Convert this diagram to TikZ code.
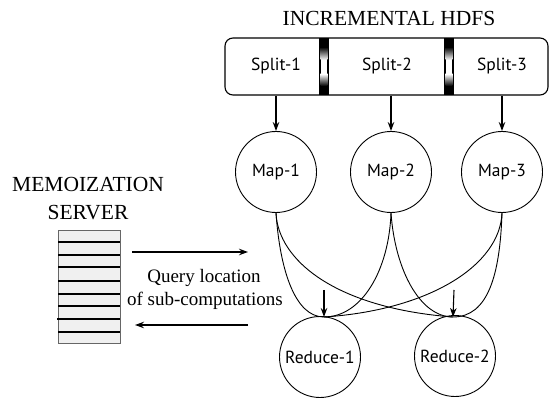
\documentclass[tikz,border=0pt]{standalone}
\usepackage{fontspec}
\setmainfont{Liberation Serif}
\newfontfamily\labelsans{PT Sans}
\usetikzlibrary{arrows.meta}
\begin{document}
\begin{tikzpicture}[x=1pt,y=-1pt,
  arr/.style={line width=1.1pt,-{Stealth[length=9pt,width=6.5pt]}},
  conn/.style={line width=0.9pt},
  task/.style={circle,draw,line width=0.9pt,minimum size=81pt,inner sep=0pt,font=\labelsans\fontsize{17.5}{20}\selectfont},
  splitlbl/.style={font=\labelsans\fontsize{17.5}{20}\selectfont},
  title/.style={font=\fontsize{21.5}{28}\selectfont,align=center},
  qtext/.style={font=\fontsize{19}{23}\selectfont},
  memoline/.style={line width=1.8pt}]
\useasboundingbox (0,0) rectangle (550,401);

% titles
\node[title] (hdfs) at (389,18) {INCREMENTAL HDFS};
\node[title] (memot) at (88,199) {MEMOIZATION\\SERVER};

% split bar
\node[draw,line width=1.1pt,rounded corners=8pt,minimum width=323pt,minimum height=57pt,inner sep=0pt] (bar) at (386.5,66.5) {};
\foreach \sx in {324,449}{
  \fill[black] (\sx-5,38) rectangle (\sx+5,95);
  \shade[top color=black,bottom color=white] (\sx-3.3,47) rectangle (\sx+3.3,60);
  \fill[white] (\sx-3.3,60) rectangle (\sx+3.3,74);
  \shade[top color=white,bottom color=black] (\sx-3.3,74) rectangle (\sx+3.3,86);
}
\node[splitlbl] (s1) at (276,66) {Split-1};
\node[splitlbl] (s2) at (387,66) {Split-2};
\node[splitlbl] (s3) at (502,66) {Split-3};

% map tasks
\node[task] (m1) at (276,172) {Map-1};
\node[task] (m2) at (391,172) {Map-2};
\node[task] (m3) at (502,172) {Map-3};

% reduce tasks
\node[task] (r1) at (320,357) {Reduce-1};
\node[task] (r2) at (455,356) {Reduce-2};

% split -> map arrows
\draw[arr] (bar.south -| m1) -- (m1.north);
\draw[arr] (bar.south -| m2) -- (m2.north);
\draw[arr] (bar.south -| m3) -- (m3.north);

% reduce inputs
\coordinate (r1t) at (324,317);
\coordinate (r2t) at (453,317);
\coordinate (r1a) at (324,290);
\coordinate (r2a) at (454,290);
\draw[arr] (r1a) -- (r1t);
\draw[arr] (r2a) -- (r2t);

% shuffle curves
\draw[conn] (m1.south) .. controls (280,270) and (295,317) .. (r1t);
\draw[conn] (m2.south) .. controls (389,270) and (362,317) .. (r1t);
\draw[conn] (m3.south) .. controls (500,265) and (430,310) .. (r1t);
\draw[conn] (m1.south) .. controls (278,260) and (335,308) .. (r2t);
\draw[conn] (m2.south) .. controls (395,270) and (420,317) .. (r2t);
\draw[conn] (m3.south) .. controls (500,275) and (488,317) .. (r2t);

% memoization server
\node[draw=black!60,fill=black!6,line width=1pt,minimum width=62pt,minimum height=113pt,inner sep=0pt] (memo) at (89,287.5) {};
\foreach \ly in {242,255,267,281,294,306,332}{
  \draw[memoline] (58,\ly) -- (120,\ly);
}
\draw[memoline] (57,319) -- (120,319);

% query arrows
\coordinate (qa1) at (132,252);
\coordinate (qa2) at (248,252);
\coordinate (qb1) at (248,325);
\coordinate (qb2) at (135,325);
\draw[arr] (qa1) -- (qa2);
\draw[arr] (qb1) -- (qb2);
\node[qtext] (q1) at (204,278) {Query location};
\node[qtext] (q2) at (205,301) {of sub-computations};
\end{tikzpicture}
\end{document}
